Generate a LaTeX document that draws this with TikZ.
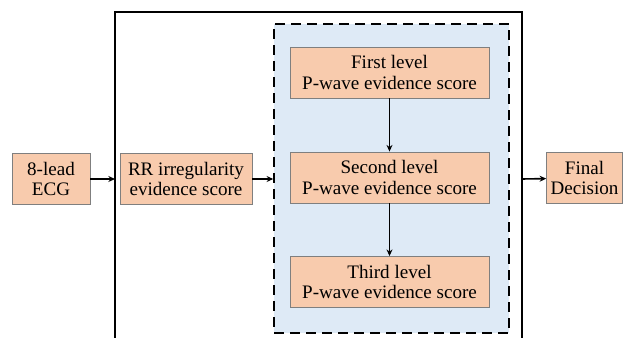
\documentclass[tikz,border=0pt]{standalone}
\usepackage{fontspec}
\setmainfont{Liberation Serif}
\usetikzlibrary{arrows.meta, positioning, calc}
\definecolor{evPeach}{HTML}{F8CBAD}
\definecolor{evEdge}{HTML}{7F7F7F}
\definecolor{evBlue}{HTML}{DEEAF6}

\begin{document}
\begin{tikzpicture}[x=0.75pt, y=-0.75pt,
  box/.style={draw=evEdge, fill=evPeach, align=center, font=\rmfamily\fontsize{14.3}{15.2}\selectfont,
              inner sep=0pt, minimum height=38.5pt},
  arr/.style={draw=black, line width=1.2pt, -{Stealth[length=5pt, width=4.5pt]}}]
  \useasboundingbox (0,0) rectangle (624,338);
  \clip (0,0) rectangle (624,338);
  % outer frame and dashed group
  \draw[line width=1.4pt] (115,345) -- (115,12) -- (522,12) -- (522,345);
  \coordinate (outL) at (115,179);
  \coordinate (outR) at (522,179);
  \node[draw=black, fill=evBlue, dashed, dash pattern=on 7.5pt off 4.5pt, line width=1.4pt,
        minimum width=176pt, minimum height=232pt, inner sep=0pt] (grp) at (391.5,178.5) {};
  % boxes
  \node[box, minimum width=58.5pt] (ecg) at (51,179) {8-lead\\ECG};
  \node[box, minimum width=99pt] (rr) at (186,179) {RR irregularity\\evidence score};
  \node[box, minimum width=149pt] (lv1) at (389.5,72.5) {First level\\P-wave evidence score};
  \node[box, minimum width=149pt] (lv2) at (389.5,177.5) {Second level\\P-wave evidence score};
  \node[box, minimum width=149pt] (lv3) at (389.5,282) {Third level\\P-wave evidence score};
  \node[box, minimum width=57pt] (fin) at (584.5,178) {Final\\Decision};
  % connectors
  \draw[arr] (ecg) -- (outL);
  \draw[arr] (rr) -- (rr -| grp.west);
  \draw[arr] (lv1) -- (lv2);
  \draw[arr] (lv2) -- (lv3);
  \draw[arr] (outR) -- (fin);
\end{tikzpicture}
\end{document}
